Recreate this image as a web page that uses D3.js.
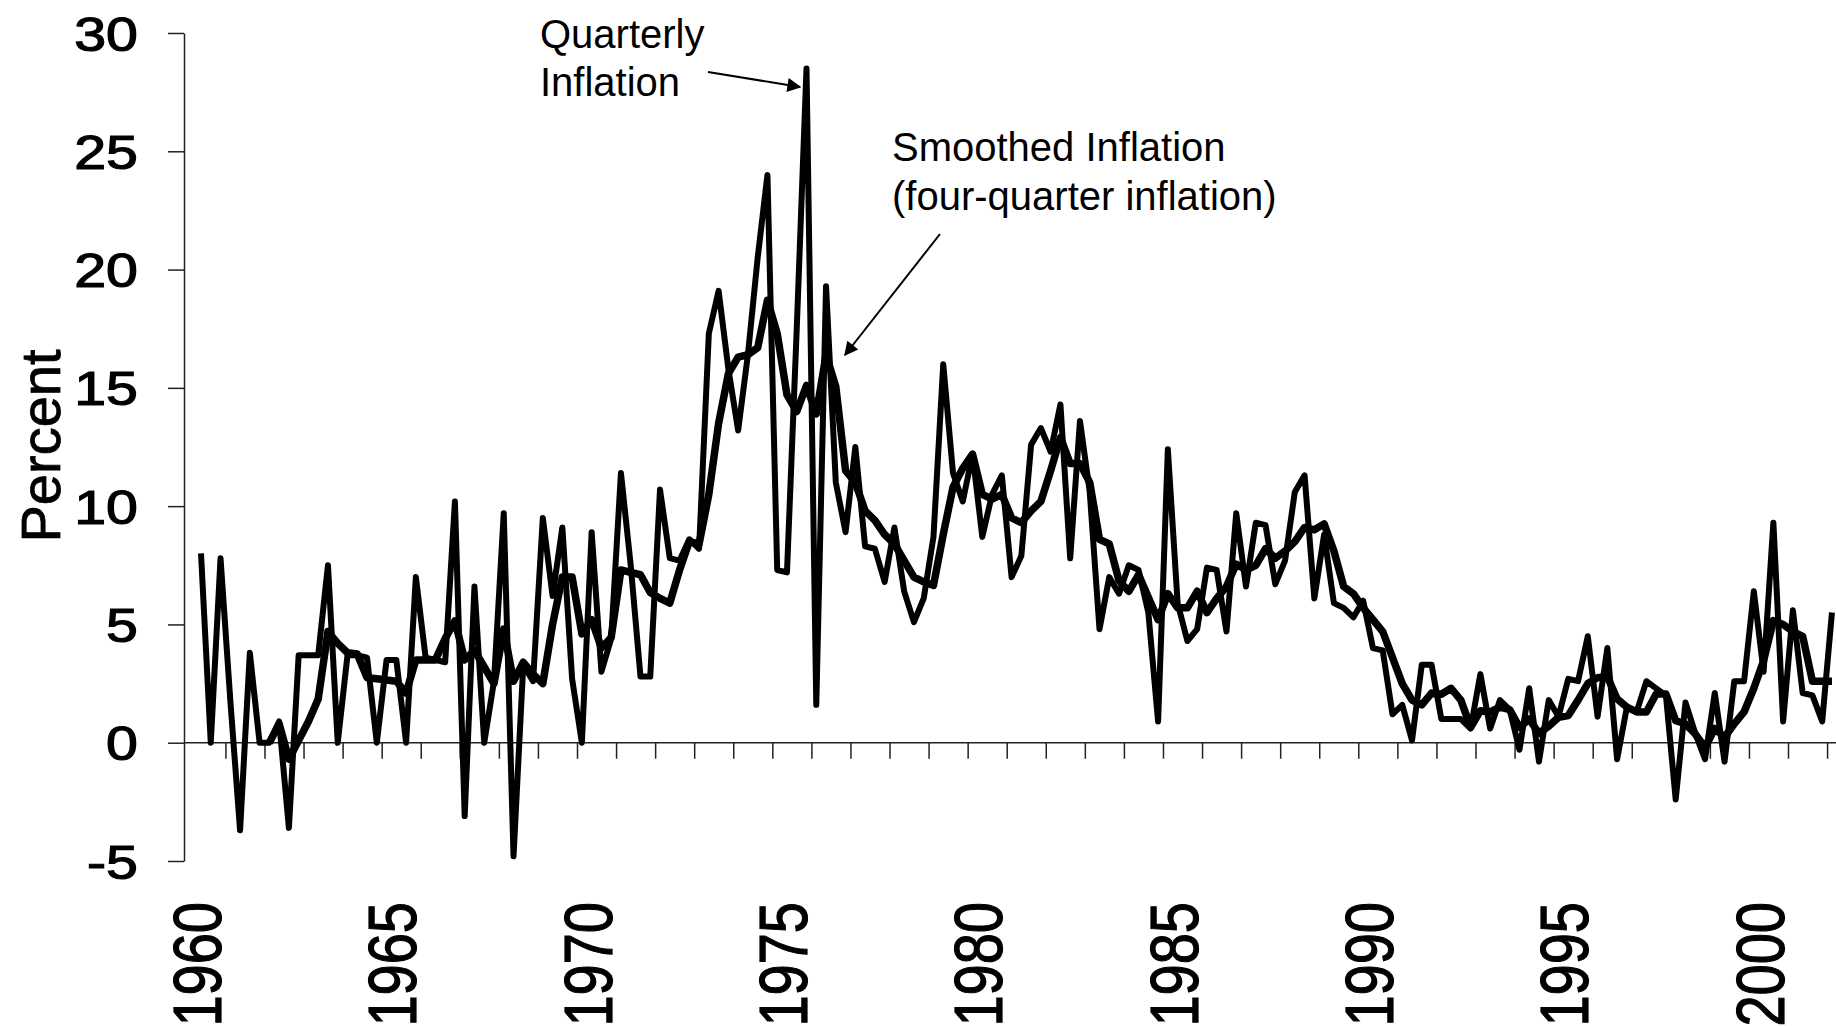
<!DOCTYPE html>
<html>
<head>
<meta charset="utf-8">
<script src="https://cdn.jsdelivr.net/npm/d3@7"></script>
<style>
  body { margin: 0; background: #fff; }
  svg { display: block; font-family: "Liberation Sans", Arial, sans-serif; }
</style>
</head>
<body>
<div id="chart"></div>
<script>
const startYear = 1960;

// quarterly inflation, 1960Q1 onwards (percent, annualised)
const quarterly = [
  8.0, 0.0, 7.8, 1.8, -3.7, 3.8, 0.0, 0.0, 0.9, -3.6,
  3.7, 3.7, 3.7, 7.5, 0.0, 3.7, 3.7, 3.6, 0.0, 3.5,
  3.5, 0.0, 7.0, 3.6, 3.5, 3.4, 10.2, -3.1, 6.6, 0.0,
  2.6, 9.7, -4.8, 3.3, 2.6, 9.5, 6.2, 9.1, 2.7, 0.0,
  8.9, 3.0, 4.4, 11.4, 7.5, 2.8, 2.8, 10.7, 7.8, 7.7,
  8.6, 8.2, 17.3, 19.1, 15.8, 13.2, 16.4, 20.5, 24.0, 7.3,
  7.2, 17.5, 28.5, 1.6, 19.3, 11.0, 8.9, 12.5, 8.3, 8.2,
  6.8, 9.1, 6.4, 5.1, 6.1, 8.7, 16.0, 11.4, 10.2, 12.2,
  8.7, 10.5, 11.3, 7.0, 7.9, 12.6, 13.3, 12.3, 14.3, 7.8,
  13.6, 10.6, 4.8, 7.0, 6.3, 7.5, 7.3, 5.5, 0.9, 12.4,
  5.9, 4.3, 4.8, 7.4, 7.3, 4.7, 9.7, 6.6, 9.3, 9.2,
  6.7, 7.7, 10.6, 11.3, 6.1, 8.8, 5.9, 5.7, 5.3, 6.0,
  4.0, 3.9, 1.2, 1.6, 0.1, 3.3, 3.3, 1.0, 1.0, 1.0,
  0.6, 2.9, 0.6, 1.8, 1.4, -0.3, 2.3, -0.8, 1.8, 1.1,
  2.7, 2.6, 4.5, 1.1, 4.0, -0.7, 1.5, 1.3, 2.6, 2.3,
  2.0, -2.4, 1.7, 0.4, -0.7, 2.1, -0.8, 2.6, 2.6, 6.4,
  3.0, 9.3, 0.9, 5.6, 2.1, 2.0, 0.9, 5.5
];

// four-quarter inflation, same quarters
const smoothed = [
  null, null, null, null, null, null, null, 0.0, 0.8, -0.7,
  0.1, 0.9, 1.85, 4.7, 4.2, 3.8, 3.75, 2.75, 2.7, 2.65,
  2.6, 2.1, 3.5, 3.5, 3.5, 4.4, 5.15, 3.5, 3.9, 3.2,
  2.5, 4.8, 2.6, 3.4, 2.9, 2.5, 5.0, 7.0, 7.0, 4.6,
  5.2, 4.0, 4.45, 7.3, 7.2, 7.1, 6.35, 6.1, 5.9, 7.3,
  8.5, 8.4, 10.5, 13.5, 15.6, 16.3, 16.4, 16.7, 18.7, 17.3,
  14.7, 14.0, 15.1, 13.9, 16.4, 15.05, 11.5, 11.0, 9.8, 9.4,
  8.8, 8.4, 7.7, 7.0, 6.8, 6.65, 8.8, 10.8, 11.6, 12.2,
  10.5, 10.3, 10.5, 9.5, 9.3, 9.8, 10.2, 11.5, 12.9, 11.8,
  11.8, 11.0, 8.6, 8.4, 6.85, 6.4, 7.1, 6.15, 5.2, 6.3,
  5.7, 5.7, 6.4, 5.5, 6.1, 6.6, 7.55, 7.3, 7.5, 8.2,
  7.8, 8.1, 8.5, 9.1, 9.0, 9.25, 8.1, 6.6, 6.3, 5.7,
  5.2, 4.7, 3.6, 2.5, 1.8, 1.6, 2.1, 2.05, 2.3, 1.8,
  0.65, 1.35, 1.3, 1.5, 1.4, 0.65, 1.0, 0.4, 0.7, 1.07,
  1.15, 1.8, 2.5, 2.75, 2.8, 1.85, 1.5, 1.3, 1.3, 2.06,
  2.06, 0.93, 0.8, 0.37, -0.2, 0.6, 0.23, 0.8, 1.3, 2.3,
  3.47, 5.16, 5.0, 4.7, 4.5, 2.6, 2.6, 2.6
];

const yearLabels = [1960, 1965, 1970, 1975, 1980, 1985, 1990, 1995, 2000];
const yTicks = [-5, 0, 5, 10, 15, 20, 25, 30];

const width = 1836;
const height = 1026;

const quarters = quarterly.map((d, i) => startYear + i / 4);

const x = d3.scaleLinear()
            .domain([1960, 2000])
            .range([201, 1763.6]);

const y = d3.scaleLinear()
            .domain([-5, 30])
            .range([861, 33]);

const svg = d3.select("#chart")
              .append("svg")
              .attr("width", width)
              .attr("height", height);

svg.append("defs")
   .append("marker")
   .attr("id", "arrow")
   .attr("viewBox", "0 0 10 10")
   .attr("refX", 9)
   .attr("refY", 5)
   .attr("markerWidth", 9)
   .attr("markerHeight", 7)
   .attr("markerUnits", "strokeWidth")
   .attr("orient", "auto")
   .append("path")
   .attr("d", "M0,0 L10,5 L0,10 z")
   .attr("fill", "#000");

// y axis
const yAxis = d3.axisLeft(y)
                .tickValues(yTicks)
                .tickSize(16)
                .tickSizeOuter(0)
                .tickFormat(d => String(d));

const yG = svg.append("g")
              .attr("transform", "translate(184, 0)")
              .call(yAxis);

yG.select(".domain").attr("stroke", "#222").attr("stroke-width", 1.5);
yG.selectAll(".tick line").attr("stroke", "#222").attr("stroke-width", 1.5);
yG.selectAll(".tick text")
  .attr("x", 0)
  .attr("y", 0)
  .attr("dy", null)
  .attr("fill", "#000")
  .attr("stroke", "#000")
  .attr("stroke-width", 1.2)
  .attr("font-size", 49)
  .attr("text-anchor", "end")
  .attr("transform", "translate(-46, 17) scale(1.17, 1)");

// x axis along zero
const tickYears = d3.range(0, 42).map(k => 1960 + k + 0.625);

const xAxis = d3.axisBottom(x)
                .tickValues(tickYears)
                .tickSize(16)
                .tickFormat("");

const xG = svg.append("g")
              .attr("transform", `translate(0, ${y(0)})`)
              .call(xAxis);

xG.select(".domain").remove();
xG.selectAll(".tick line").attr("stroke", "#222").attr("stroke-width", 1.5);

svg.append("line")
   .attr("x1", 184)
   .attr("x2", width)
   .attr("y1", y(0))
   .attr("y2", y(0))
   .attr("stroke", "#222")
   .attr("stroke-width", 1.5);

// year labels at the bottom
svg.append("g")
   .selectAll("text")
   .data(yearLabels)
   .enter()
   .append("text")
   .attr("transform", d => `translate(${x(d) + 20}, 902) rotate(-90) scale(1, 1.22)`)
   .attr("text-anchor", "end")
   .attr("font-size", 56)
   .attr("fill", "#000")
   .attr("stroke", "#000")
   .attr("stroke-width", 1)
   .text(d => d);

svg.append("text")
   .attr("transform", "translate(60, 446) rotate(-90)")
   .attr("text-anchor", "middle")
   .attr("font-size", 56)
   .attr("fill", "#000")
   .attr("stroke", "#000")
   .attr("stroke-width", 0.8)
   .text("Percent");

// series
const line = d3.line()
               .defined(d => d[1] != null)
               .x(d => x(d[0]))
               .y(d => y(d[1]));

svg.append("path")
   .datum(quarters.map((q, i) => [q, quarterly[i]]))
   .attr("fill", "none")
   .attr("stroke", "#000")
   .attr("stroke-width", 6)
   .attr("stroke-linejoin", "round")
   .attr("d", line);

svg.append("path")
   .datum(quarters.map((q, i) => [q, smoothed[i]]))
   .attr("fill", "none")
   .attr("stroke", "#000")
   .attr("stroke-width", 7.5)
   .attr("stroke-linejoin", "round")
   .attr("d", line);

// annotations
const notes = svg.append("g")
                 .attr("font-size", 40)
                 .attr("fill", "#000");

notes.append("text").attr("x", 540).attr("y", 48).text("Quarterly");
notes.append("text").attr("x", 540).attr("y", 96).text("Inflation");
notes.append("text").attr("x", 892).attr("y", 161).text("Smoothed Inflation");
notes.append("text").attr("x", 892).attr("y", 210).text("(four-quarter inflation)");

svg.append("line")
   .attr("x1", 708).attr("y1", 72)
   .attr("x2", 800).attr("y2", 87)
   .attr("stroke", "#000")
   .attr("stroke-width", 2)
   .attr("marker-end", "url(#arrow)");

svg.append("line")
   .attr("x1", 940).attr("y1", 234)
   .attr("x2", 845).attr("y2", 355)
   .attr("stroke", "#000")
   .attr("stroke-width", 2)
   .attr("marker-end", "url(#arrow)");
</script>
</body>
</html>
